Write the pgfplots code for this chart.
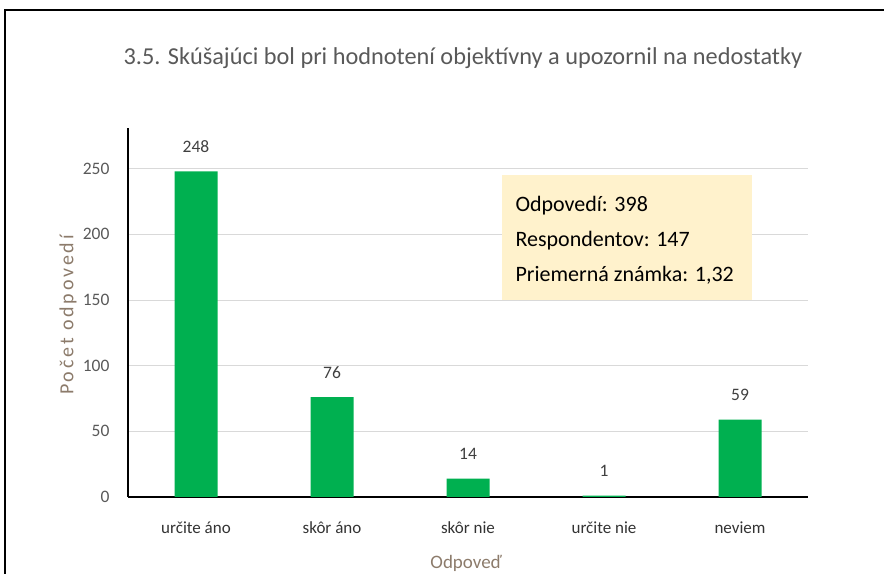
\documentclass[border=0pt]{standalone}
\usepackage{pgfplots}
\pgfplotsset{compat=1.18}
\usepackage{fontspec}
\setmainfont{Carlito}
\definecolor{bargreen}{HTML}{00B050}
\definecolor{txtgray}{HTML}{595959}
\definecolor{darkgray}{HTML}{333333}
\definecolor{labgray}{HTML}{404040}
\definecolor{axbrown}{HTML}{8C7B6B}
\definecolor{boxfill}{HTML}{FFF2CC}
\begin{document}
\begin{tikzpicture}[x=1bp,y=1bp]
\useasboundingbox (0,0) rectangle (884,574);
\draw[line width=1.5bp] (5,0) -- (5,564) -- (884,564);
\node[text=txtgray,font=\fontsize{24.3bp}{28bp}\selectfont] at (463,516) {3.5. Skúšajúci bol pri hodnotení objektívny a upozornil na nedostatky};
\begin{axis}[
  at={(128bp,77bp)}, anchor=south west,
  scale only axis, width=680bp, height=369bp,
  xmin=-0.5, xmax=4.5, ymin=0, ymax=281,
  axis x line=bottom, axis y line=left,
  axis line style={line width=2bp,-},
  ytick={0,50,100,150,200,250},
  xtick=data,
  xticklabels={určite áno,skôr áno,skôr nie,určite nie,neviem},
  major tick length=0pt,
  ymajorgrids, grid style={line width=1bp, color=black!15},
  /pgf/number format/assume math mode=true,
  yticklabel style={anchor=east, xshift=-15bp, text=txtgray, font=\fontsize{17.5bp}{20bp}\selectfont},
  xticklabel style={anchor=center, yshift=-31bp, text=darkgray, font=\fontsize{17bp}{20bp}\selectfont},
  ybar, bar width=43bp,
  nodes near coords,
  nodes near coords style={anchor=center, yshift=25bp, text=labgray, font=\fontsize{17.5bp}{20bp}\selectfont},
  clip=false,
]
\addplot[fill=bargreen, draw=none] coordinates {(0,248) (1,76) (2,14) (3,1) (4,59)};
\end{axis}
\node[text=axbrown,font=\fontsize{20bp}{24bp}\selectfont\addfontfeature{LetterSpace=14},rotate=90] at (68,259) {Počet odpovedí};
\node[text=axbrown,font=\fontsize{19bp}{22bp}\selectfont] at (466,11) {Odpoveď};
\fill[boxfill] (502,274) rectangle (752,399);
\node[anchor=north west,align=left,text=black,font=\fontsize{22bp}{35bp}\selectfont] at (512,381) {Odpovedí: 398\\Respondentov: 147\\Priemerná známka: 1,32};
\end{tikzpicture}
\end{document}
